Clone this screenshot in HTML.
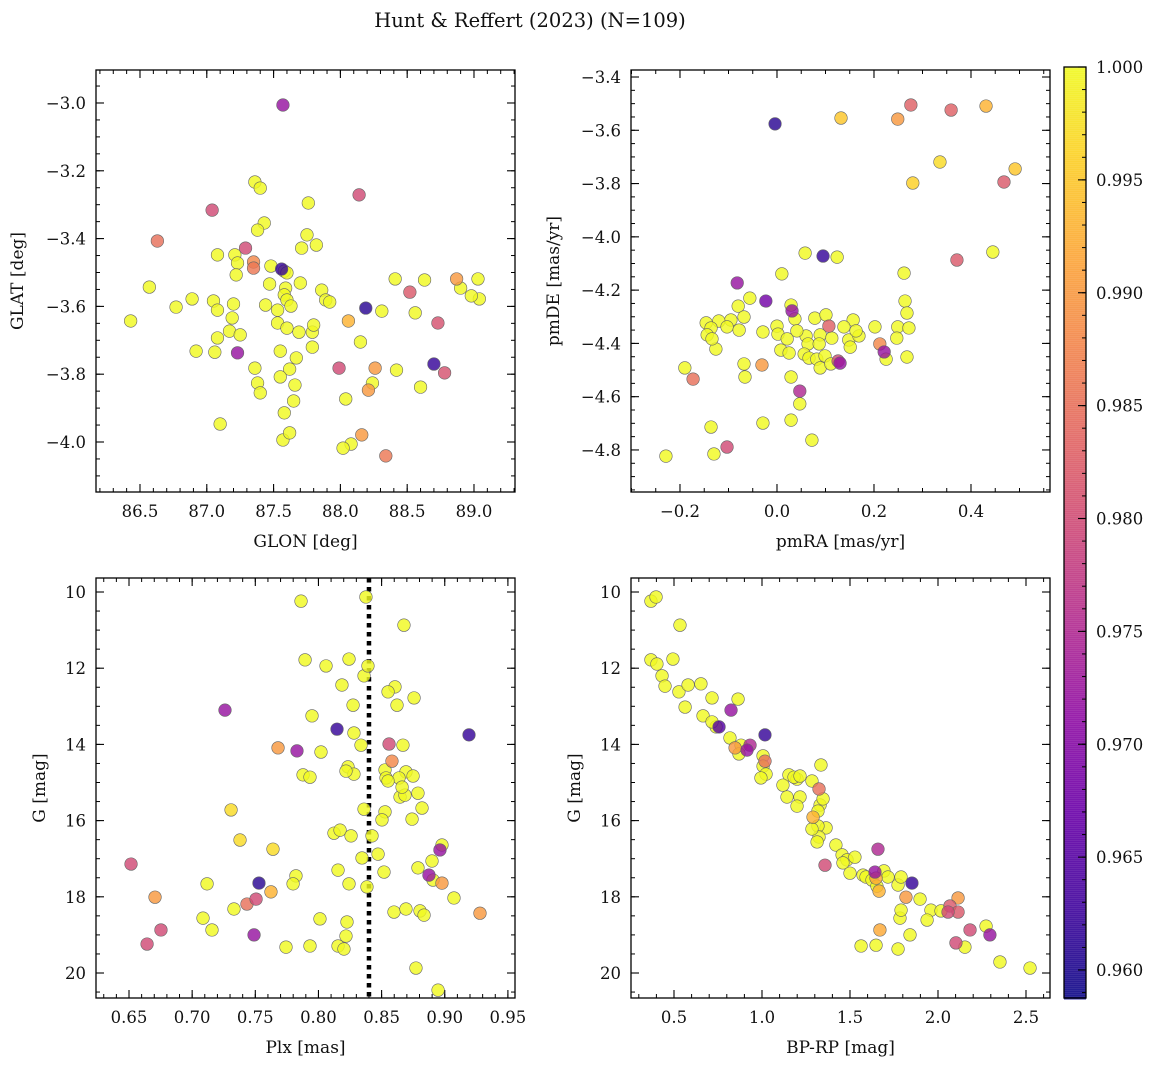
<!DOCTYPE html>
<html><head><meta charset="utf-8"><style>
html,body{margin:0;padding:0;background:#fff;}
svg text{font-family:"DejaVu Serif","Liberation Serif",serif;fill:#111;}
</style></head><body>
<svg id="fig" width="1161" height="1067" viewBox="0 0 1161 1067" xmlns="http://www.w3.org/2000/svg">
<text x="530" y="27" font-size="19.5" text-anchor="middle">Hunt &amp; Reffert (2023) (N=109)</text>
</svg>
<script>
// ---------- data ----------
const tlGlon=[87.57,87.04,86.63,87.36,87.40,87.76,88.14,87.43,87.38,87.29,87.08,87.21,87.35,87.35,87.48,87.56,87.58,87.60,87.71,87.75,87.82,87.23,87.22,86.57,86.89,86.77,87.05,87.20,87.47,87.59,87.58,87.60,87.44,87.53,87.63,87.70,87.86,87.89,87.92,87.79,87.80,87.19,87.17,87.25,87.08,87.08,86.43,86.92,87.06,87.23,87.53,87.60,87.69,87.55,87.67,87.79,87.62,87.36,87.38,87.55,87.40,88.06,88.15,88.19,87.99,88.04,88.08,88.02,88.16,88.26,88.24,88.21,88.31,88.41,88.52,88.42,88.56,88.60,88.63,88.34,88.70,88.73,88.78,88.87,88.90,89.03,89.04,88.98,87.10,87.65,87.58,87.66,87.57,87.62];
const tlGlat=[-3.006,-3.316,-3.407,-3.233,-3.251,-3.295,-3.271,-3.354,-3.375,-3.428,-3.448,-3.448,-3.469,-3.487,-3.481,-3.490,-3.496,-3.501,-3.428,-3.389,-3.419,-3.472,-3.507,-3.543,-3.578,-3.602,-3.584,-3.593,-3.534,-3.546,-3.566,-3.581,-3.596,-3.611,-3.599,-3.531,-3.552,-3.581,-3.587,-3.676,-3.655,-3.634,-3.673,-3.684,-3.693,-3.611,-3.643,-3.732,-3.735,-3.737,-3.649,-3.664,-3.676,-3.732,-3.752,-3.720,-3.785,-3.782,-3.826,-3.808,-3.855,-3.643,-3.705,-3.605,-3.782,-3.873,-4.006,-4.018,-3.979,-3.782,-3.826,-3.847,-3.614,-3.519,-3.558,-3.788,-3.619,-3.838,-3.522,-4.041,-3.770,-3.649,-3.796,-3.519,-3.546,-3.519,-3.578,-3.569,-3.947,-3.879,-3.914,-3.832,-3.994,-3.973];
const tlProb=[0.972,0.980,0.985,1,1,1,0.980,1,1,0.980,1,1,0.988,0.986,1,0.962,1,1,1,1,1,1,1,1,1,1,1,1,1,1,1,1,1,1,1,1,1,1,1,1,1,1,1,1,1,1,1,1,1,0.972,1,1,1,1,1,1,1,1,1,1,1,0.993,1,0.961,0.980,1,1,1,0.990,0.990,1,0.990,1,1,0.982,1,1,1,1,0.986,0.962,0.981,0.981,0.990,1,1,1,1,1,1,1,1,1,1];

const trPmra=[-0.004,0.132,0.249,0.276,0.359,0.431,0.491,0.336,0.280,0.468,0.058,0.095,0.124,0.371,0.445,-0.082,0.010,0.262,-0.023,-0.080,-0.056,0.029,0.031,0.264,0.268,-0.068,-0.095,-0.120,-0.146,-0.136,-0.103,-0.078,-0.144,-0.126,0.000,0.037,0.078,0.101,0.157,0.138,0.002,0.021,-0.029,0.008,0.025,0.089,0.060,0.107,0.113,0.148,0.169,0.202,0.249,0.272,0.247,0.064,0.087,0.056,0.066,0.082,0.099,0.089,0.111,0.126,0.130,0.151,0.212,0.221,0.225,0.268,-0.068,-0.066,-0.031,-0.190,-0.173,0.029,0.047,0.047,0.029,-0.029,-0.136,-0.130,0.072,-0.103,-0.229,-0.134,0.163,0.041];
const trPmde=[-3.576,-3.554,-3.558,-3.505,-3.524,-3.509,-3.745,-3.719,-3.798,-3.794,-4.061,-4.072,-4.076,-4.087,-4.057,-4.173,-4.139,-4.136,-4.241,-4.260,-4.230,-4.256,-4.278,-4.241,-4.286,-4.301,-4.312,-4.316,-4.323,-4.342,-4.338,-4.350,-4.368,-4.421,-4.335,-4.308,-4.305,-4.293,-4.312,-4.338,-4.365,-4.383,-4.357,-4.425,-4.436,-4.368,-4.372,-4.335,-4.380,-4.387,-4.372,-4.338,-4.338,-4.342,-4.380,-4.402,-4.402,-4.440,-4.455,-4.459,-4.447,-4.492,-4.477,-4.466,-4.474,-4.414,-4.402,-4.432,-4.459,-4.451,-4.477,-4.526,-4.481,-4.492,-4.534,-4.526,-4.579,-4.627,-4.688,-4.699,-4.714,-4.815,-4.763,-4.789,-4.823,-4.383,-4.353,-4.353];
const trProb=[0.961,0.995,0.990,0.983,0.983,0.993,0.995,0.997,0.996,0.982,1,0.962,1,0.982,1,0.972,1,1,0.968,1,1,1,0.972,1,1,1,1,1,1,1,1,1,1,1,1,1,1,1,1,1,1,1,1,1,1,1,1,0.983,1,1,1,1,1,1,1,1,1,1,1,1,1,1,1,0.980,0.972,1,0.988,0.972,1,1,1,1,0.990,1,0.985,1,0.975,1,1,1,1,1,1,0.980,1,1,1,1];

const blPlx=[0.8376,0.7862,0.8677,0.7894,0.8060,0.8242,0.8361,0.8392,0.8186,0.8606,0.8551,0.8757,0.8622,0.7260,0.8274,0.7949,0.7680,0.7830,0.8020,0.8147,0.8281,0.8337,0.8559,0.8669,0.9192,0.8582,0.8527,0.8693,0.8234,0.7878,0.7933,0.8281,0.8535,0.8638,0.8749,0.8646,0.8788,0.8551,0.7308,0.8685,0.8820,0.8361,0.8527,0.8503,0.8741,0.8123,0.8171,0.8258,0.8424,0.7379,0.8472,0.7640,0.8345,0.8978,0.8962,0.6516,0.8519,0.8788,0.8899,0.8155,0.7822,0.7118,0.7799,0.8384,0.8242,0.8875,0.8907,0.8978,0.7529,0.6706,0.7624,0.7434,0.7506,0.7331,0.7086,0.7157,0.6753,0.6643,0.7490,0.8012,0.8226,0.8218,0.8155,0.8202,0.7743,0.7933,0.8804,0.8836,0.8598,0.8693,0.9073,0.9279,0.8772,0.8947,0.8662,0.8218];
const blG=[10.13,10.24,10.87,11.78,11.94,11.76,12.20,11.94,12.44,12.49,12.62,12.78,12.97,13.10,12.97,13.25,14.09,14.17,14.20,13.60,13.70,14.02,13.99,14.02,13.75,14.44,14.67,14.72,14.59,14.80,14.86,14.78,14.88,14.88,14.83,15.38,15.28,14.96,15.72,15.33,15.67,15.70,15.77,15.98,15.96,16.33,16.25,16.40,16.40,16.51,16.88,16.75,16.98,16.64,16.77,17.14,17.35,17.24,17.06,17.30,17.45,17.66,17.66,17.74,17.66,17.43,17.56,17.64,17.64,18.01,17.87,18.19,18.06,18.32,18.56,18.87,18.87,19.24,19.00,18.58,18.66,19.03,19.29,19.37,19.32,19.29,18.37,18.48,18.40,18.32,18.03,18.43,19.87,20.45,15.12,14.70];
const blProb=[1,1,1,1,1,1,1,1,1,1,1,1,1,0.972,1,1,0.990,0.972,1,0.962,1,1,0.980,1,0.962,0.988,1,1,1,1,1,1,1,1,1,1,1,1,0.997,1,1,1,1,1,1,1,1,1,1,0.997,1,0.997,1,1,0.972,0.980,1,1,1,1,1,1,1,1,1,0.972,1,0.990,0.961,0.990,0.993,0.985,0.980,1,1,1,0.980,0.980,0.972,1,1,1,1,1,1,1,1,1,1,1,1,0.990,1,1,1,1];

const brColor=[0.369,0.398,0.534,0.369,0.403,0.432,0.449,0.494,0.528,0.580,0.653,0.563,0.665,0.716,0.864,0.824,0.739,0.756,0.716,0.818,0.881,0.915,0.932,1.017,0.847,0.869,1.006,1.017,1.006,1.023,0.994,1.153,1.199,1.182,1.119,1.216,1.284,1.324,1.335,1.142,1.216,1.199,1.330,1.347,1.318,1.290,1.364,1.318,1.324,1.284,1.420,1.358,1.313,1.455,1.483,1.528,1.460,1.574,1.500,1.659,1.591,1.625,1.648,1.693,1.716,1.653,1.665,1.642,1.773,1.790,1.852,1.818,1.898,1.960,1.938,1.784,1.790,2.017,2.068,2.114,2.057,2.114,2.102,2.182,2.153,2.273,2.295,1.563,1.648,1.670,1.773,1.841,2.352,2.523];
const brG=[10.24,10.13,10.87,11.78,11.89,12.20,12.47,11.76,12.62,12.44,12.41,13.02,13.25,12.78,12.81,13.10,13.54,13.54,13.41,13.83,14.02,14.15,14.02,13.75,14.09,14.25,14.30,14.44,14.57,14.78,14.88,14.80,14.91,14.86,15.07,14.83,14.96,15.17,14.54,15.38,15.38,15.62,15.59,15.43,15.75,15.91,16.19,16.14,16.43,16.22,16.64,17.17,16.56,16.90,17.03,16.96,17.11,17.43,17.38,16.75,17.48,17.56,17.51,17.32,17.48,17.72,17.85,17.35,17.69,17.48,17.64,18.01,18.06,18.35,18.61,18.56,18.35,18.37,18.24,18.03,18.40,18.40,19.21,18.87,19.32,18.77,19.00,19.29,19.27,18.87,19.37,19.00,19.71,19.87];
const brProb=[1,1,1,1,1,1,1,1,1,1,1,1,1,1,1,0.972,1,0.965,1,1,1,0.972,0.975,0.962,0.990,1,1,0.985,1,1,1,1,1,1,1,1,1,0.985,1,1,1,1,1,1,1,0.993,1,1,1,1,1,0.980,1,1,1,1,1,1,1,0.975,1,1,0.992,1,1,1,0.993,0.972,1,1,0.962,0.990,1,1,1,1,1,1,0.982,0.990,0.980,0.982,0.980,0.980,1,1,0.972,1,1,0.992,1,1,1,1];

const cbTicks=[0.960,0.965,0.970,0.975,0.980,0.985,0.990,0.995,1.000];
const tlXTicks=[86.5,87.0,87.5,88.0,88.5,89.0];
const tlYTicks=[-3.0,-3.2,-3.4,-3.6,-3.8,-4.0];
const trXTicks=[-0.2,0.0,0.2,0.4];
const trYTicks=[-3.4,-3.6,-3.8,-4.0,-4.2,-4.4,-4.6,-4.8];
const blXTicks=[0.65,0.70,0.75,0.80,0.85,0.90,0.95];
const gTicks=[10,12,14,16,18,20];
const brXTicks=[0.5,1.0,1.5,2.0,2.5];
const plxCut=0.84;

// ---------- helpers ----------
const NS='http://www.w3.org/2000/svg';
const svg=document.getElementById('fig');
function mk(tag,attrs,parent){const e=document.createElementNS(NS,tag);for(const k in attrs)e.setAttribute(k,attrs[k]);(parent||svg).appendChild(e);return e;}
const stops=[[13,8,135],[65,4,157],[106,0,168],[143,13,164],[177,42,144],[204,71,120],[225,100,98],[242,132,75],[252,166,54],[252,206,37],[240,249,33]];
function plasma(t){t=Math.max(0,Math.min(1,t));const f=t*10,i=Math.min(9,Math.floor(f)),u=f-i;const a=stops[i],b=stops[i+1];return 'rgb('+a.map((v,k)=>Math.round(v+(b[k]-v)*u)).join(',')+')';}
const pMin=0.95876,pMax=1.0;
function pcol(p){return plasma((p-pMin)/(pMax-pMin));}
function lin(d0,d1,r0,r1){return v=>r0+(v-d0)/(d1-d0)*(r1-r0);}
function fmt(v,dec){let s=v.toFixed(dec);return s.startsWith('-')?'\u2212'+s.slice(1):s;}

function panel(o){
  const g=mk('g',{});
  
  
  const X=lin(o.xd[0],o.xd[1],o.L,o.R), Y=lin(o.yd[0],o.yd[1],o.B,o.T);
  const eps=1e-9;
  function ticks(d0,d1,step,len,isX){
    const lo=Math.min(d0,d1),hi=Math.max(d0,d1);
    for(let v=Math.ceil(lo/step-eps)*step;v<=hi+eps;v+=step){
      if(isX){const x=X(v);mk('line',{x1:x,x2:x,y1:o.B,y2:o.B-len,stroke:'#000','stroke-width':1},g);mk('line',{x1:x,x2:x,y1:o.T,y2:o.T+len,stroke:'#000','stroke-width':1},g);}
      else{const y=Y(v);mk('line',{x1:o.L,x2:o.L+len,y1:y,y2:y,stroke:'#000','stroke-width':1},g);mk('line',{x1:o.R,x2:o.R-len,y1:y,y2:y,stroke:'#000','stroke-width':1},g);}
    }
  }
  ticks(o.xd[0],o.xd[1],o.xminor,4,true);
  ticks(o.yd[0],o.yd[1],o.yminor,4,false);
  o.xt.forEach(v=>{const x=X(v);
    mk('line',{x1:x,x2:x,y1:o.B,y2:o.B-8,stroke:'#000','stroke-width':1.1},g);
    mk('line',{x1:x,x2:x,y1:o.T,y2:o.T+8,stroke:'#000','stroke-width':1.1},g);
    const t=mk('text',{x:x,y:o.B+25,'font-size':16.5,'text-anchor':'middle'},g);t.textContent=fmt(v,o.xdec);
    
    
  });
  o.yt.forEach(v=>{const y=Y(v);
    mk('line',{x1:o.L,x2:o.L+8,y1:y,y2:y,stroke:'#000','stroke-width':1.1},g);
    mk('line',{x1:o.R,x2:o.R-8,y1:y,y2:y,stroke:'#000','stroke-width':1.1},g);
    const t=mk('text',{x:o.L-10,y:y+6,'font-size':16.5,'text-anchor':'end'},g);t.textContent=fmt(v,o.ydec);
    
    
  });
  if(o.vline!==undefined){
    const vl=mk('line',{x1:X(o.vline),x2:X(o.vline),y1:o.T,y2:o.B,stroke:'#000','stroke-width':4.5,'stroke-dasharray':'4.5,4.5'},g);
    
    
  }
  const idx=o.xs.map((_,i)=>i).sort((a,b)=>o.ps[b]-o.ps[a]);
  idx.forEach(i=>{
    const c=mk('circle',{cx:X(o.xs[i]),cy:Y(o.ys[i]),r:6.3,fill:pcol(o.ps[i]),'fill-opacity':0.82,stroke:'#666','stroke-width':0.6},g);
    
    
  });
  mk('rect',{x:o.L,y:o.T,width:o.R-o.L,height:o.B-o.T,fill:'none',stroke:'#000','stroke-width':1.3},g);
  const xl=mk('text',{x:(o.L+o.R)/2,y:o.B+55,'font-size':17,'text-anchor':'middle'},g);xl.textContent=o.xlab;
  
  
  const cy=(o.T+o.B)/2;
  const yl=mk('text',{x:o.ylx,y:cy,'font-size':17,'text-anchor':'middle',transform:'rotate(-90 '+o.ylx+' '+cy+')'},g);yl.textContent=o.ylab;
  
  
}

panel({name:'glon-glat-panel',L:96,R:515,T:70,B:492,xd:[86.1707,89.307],yd:[-4.1475,-2.9027],xs:tlGlon,ys:tlGlat,ps:tlProb,xt:tlXTicks,yt:tlYTicks,xminor:0.1,yminor:0.05,xdec:1,ydec:1,xlab:'GLON [deg]',ylab:'GLAT [deg]',ylx:23});
panel({name:'proper-motion-panel',L:631,R:1050,T:70,B:492,xd:[-0.301,0.5629],yd:[-4.9578,-3.3737],xs:trPmra,ys:trPmde,ps:trProb,xt:trXTicks,yt:trYTicks,xminor:0.05,yminor:0.05,xdec:1,ydec:1,xlab:'pmRA [mas/yr]',ylab:'pmDE [mas/yr]',ylx:559});
panel({name:'plx-g-panel',L:96,R:515,T:578,B:998,xd:[0.62387,0.95562],yd:[20.656,9.6325],xs:blPlx,ys:blG,ps:blProb,xt:blXTicks,yt:gTicks,xminor:0.01,yminor:0.5,xdec:2,ydec:0,xlab:'Plx [mas]',ylab:'G [mag]',ylx:45,vline:plxCut});
panel({name:'cmd-panel',L:631,R:1050,T:578,B:998,xd:[0.2557,2.6364],yd:[20.656,9.6325],xs:brColor,ys:brG,ps:brProb,xt:brXTicks,yt:gTicks,xminor:0.1,yminor:0.5,xdec:1,ydec:0,xlab:'BP-RP [mag]',ylab:'G [mag]',ylx:580});

// colorbar
const cb=mk('g',{});


const cT=67,cB=998,cL=1064,cR=1086;
const CY=lin(pMin,pMax,cB,cT);
for(let y=cT;y<cB;y+=2){const v=pMin+(cB-y-1)/(cB-cT)*(pMax-pMin);mk('rect',{x:cL,y:y,width:cR-cL,height:2.5,fill:pcol(v),'fill-opacity':0.85},cb);}
for(let v=0.959;v<=1.0+1e-9;v+=0.001){const y=CY(v);mk('line',{x1:cR,x2:cR-4,y1:y,y2:y,stroke:'#000','stroke-width':1},cb);}
cbTicks.forEach(v=>{const y=CY(v);
  mk('line',{x1:cR,x2:cR-8,y1:y,y2:y,stroke:'#000','stroke-width':1.1},cb);
  const t=mk('text',{x:cR+10,y:y+6,'font-size':16.5},cb);t.textContent=v.toFixed(3);
  
  
});
mk('rect',{x:cL,y:cT,width:cR-cL,height:cB-cT,fill:'none',stroke:'#000','stroke-width':1.3},cb);
</script>
</body></html>
